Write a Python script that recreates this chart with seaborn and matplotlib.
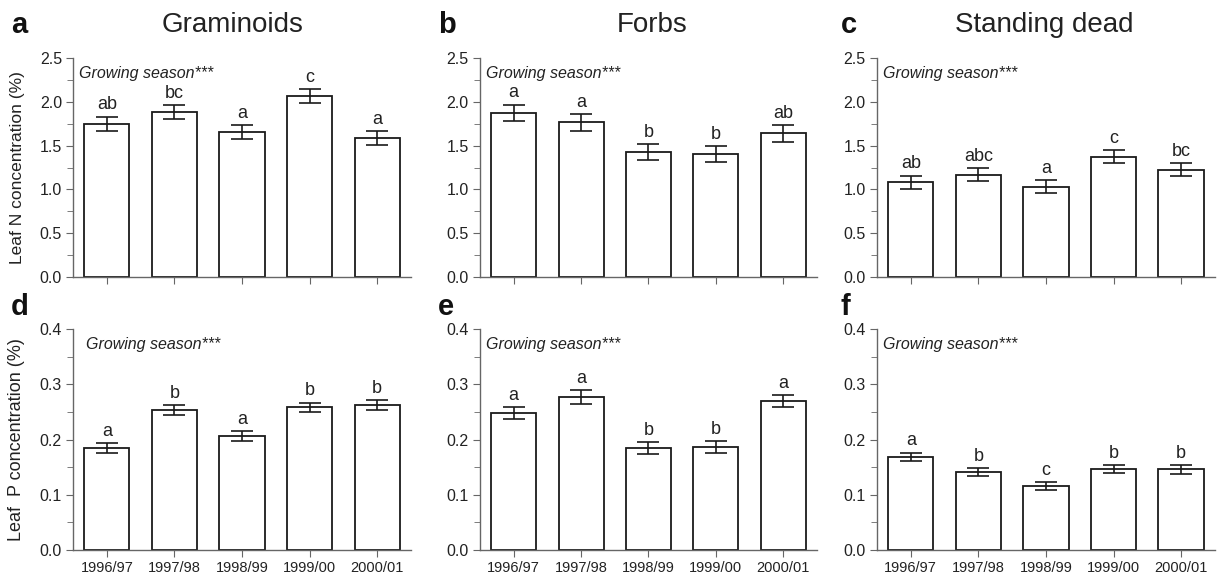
import numpy as np
import pandas as pd
import matplotlib
matplotlib.use("Agg")
import matplotlib.pyplot as plt
from matplotlib.ticker import MultipleLocator
import seaborn as sns

sns.set_style("ticks")
plt.rcParams["font.family"] = ["Liberation Sans", "DejaVu Sans"]

# ─── data ────────────────────────────────────────────────────────────────
seasons = ["1996/97", "1997/98", "1998/99", "1999/00", "2000/01"]

gram_n = [1.75, 1.88, 1.65, 2.065, 1.585]
gram_n_se = [0.08, 0.08, 0.08, 0.08, 0.08]
gram_n_let = ["ab", "bc", "a", "c", "a"]

forb_n = [1.875, 1.765, 1.425, 1.405, 1.64]
forb_n_se = [0.09, 0.095, 0.09, 0.09, 0.095]
forb_n_let = ["a", "a", "b", "b", "ab"]

dead_n = [1.08, 1.17, 1.03, 1.375, 1.225]
dead_n_se = [0.075, 0.07, 0.075, 0.075, 0.075]
dead_n_let = ["ab", "abc", "a", "c", "bc"]

gram_p = [0.184, 0.254, 0.206, 0.258, 0.262]
gram_p_se = [0.009, 0.009, 0.009, 0.009, 0.009]
gram_p_let = ["a", "b", "a", "b", "b"]

forb_p = [0.248, 0.277, 0.185, 0.186, 0.270]
forb_p_se = [0.011, 0.012, 0.011, 0.011, 0.011]
forb_p_let = ["a", "a", "b", "b", "a"]

dead_p = [0.169, 0.141, 0.116, 0.146, 0.146]
dead_p_se = [0.0075, 0.0075, 0.0075, 0.0075, 0.008]
dead_p_let = ["a", "b", "c", "b", "b"]

panel_letters = ["a", "b", "c", "d", "e", "f"]
titles = ["Graminoids", "Forbs", "Standing dead"]
note = "Growing season***"
ylabels = ["Leaf N concentration (%)", "Leaf  P concentration (%)"]

panels = [
    (gram_n, gram_n_se, gram_n_let),
    (forb_n, forb_n_se, forb_n_let),
    (dead_n, dead_n_se, dead_n_let),
    (gram_p, gram_p_se, gram_p_let),
    (forb_p, forb_p_se, forb_p_let),
    (dead_p, dead_p_se, dead_p_let),
]

# ─── layout ──────────────────────────────────────────────────────────────
fig = plt.figure(figsize=(12.17, 5.80), dpi=100)
lefts = [0.060, 0.3944, 0.7206]
widths = [0.2777, 0.2769, 0.2777]
bottoms = [0.5224, 0.0517]
heights = [0.3776, 0.381]
letter_x = [0.009, 0.360, 0.691]
letter_y = [0.943, 0.457]
title_x = [0.1915, 0.5357, 0.8578]
note_x = [0.018, 0.018, 0.018, 0.038, 0.018, 0.018]
ylabel_size = [12.5, 13]

spine_col = "#666666"
text_col = "#222222"

for i, (vals, se, lets) in enumerate(panels):
    row, col = divmod(i, 3)
    ax = fig.add_axes([lefts[col], bottoms[row], widths[col], heights[row]])
    df = pd.DataFrame({"season": seasons, "value": vals, "se": se})

    sns.barplot(data=df, x="season", y="value", color="white", edgecolor="#1a1a1a",
                linewidth=1.3, width=0.67, errorbar=None, saturation=1, ax=ax)
    ax.errorbar(np.arange(len(seasons)), df["value"], yerr=df["se"], fmt="none",
                ecolor="#1a1a1a", elinewidth=1.2, capsize=8, capthick=1.2)

    if row == 0:
        ymax, major, minor = 2.5, 0.5, 0.25
        off = 0.085
    else:
        ymax, major, minor = 0.4, 0.1, 0.05
        off = 0.013
    ax.set_ylim(0, ymax)
    ax.set_xlim(-0.5, 4.5)
    ax.yaxis.set_major_locator(MultipleLocator(major))
    ax.yaxis.set_minor_locator(MultipleLocator(minor))
    ax.yaxis.set_major_formatter(plt.FormatStrFormatter("%.1f"))

    for x, (v, e, l) in enumerate(zip(vals, se, lets)):
        ax.text(x, v + e + off, l, ha="center", va="baseline", fontsize=13, color=text_col)

    ax.text(note_x[i], 0.965, note, transform=ax.transAxes, ha="left", va="top",
            fontsize=11.5, style="italic", color=text_col)

    sns.despine(ax=ax)
    for s in ["left", "bottom"]:
        ax.spines[s].set_color(spine_col)
        ax.spines[s].set_linewidth(1.0)
    ax.tick_params(axis="both", which="both", color=spine_col, direction="out",
                   labelcolor=text_col)
    ax.tick_params(axis="y", which="major", length=5, labelsize=11.5, pad=3)
    ax.tick_params(axis="y", which="minor", length=4)
    ax.tick_params(axis="x", length=5, pad=3, labelsize=10.5)
    ax.set_xlabel("")
    ax.set_ylabel("")
    if row == 0:
        ax.set_xticklabels([])
        fig.text(title_x[col], 0.944, titles[col], fontsize=20, color=text_col,
                 ha="center", va="baseline")
    if col == 0:
        ax.set_ylabel(ylabels[row], fontsize=ylabel_size[row], color=text_col)
        ax.yaxis.set_label_coords(-0.142, 0.5)

    fig.text(letter_x[col], letter_y[row], panel_letters[i], fontsize=21,
             fontweight="bold", ha="left", va="baseline", color="#111111")

fig.savefig("out.png", dpi=100)
